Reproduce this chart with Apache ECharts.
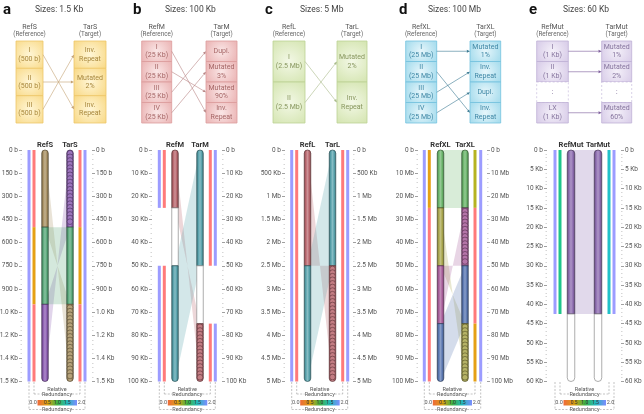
<!DOCTYPE html>
<html><head><meta charset="utf-8">
<script src="https://cdn.jsdelivr.net/npm/echarts@6/dist/echarts.min.js"></script>
<style>html,body{margin:0;padding:0;background:#fff}#c{width:644px;height:414px}</style>
</head><body><div id="c"></div>
<script>
// ================= DATA =================
const panelLetters = ['a', 'b', 'c', 'd', 'e'];
const panelTitles = ['Sizes: 1.5 Kb', 'Sizes: 100 Kb', 'Sizes: 5 Mb', 'Sizes: 100 Mb', 'Sizes: 60 Kb'];
const refNames = ['RefS', 'RefM', 'RefL', 'RefXL', 'RefMut'];
const tarNames = ['TarS', 'TarM', 'TarL', 'TarXL', 'TarMut'];
const genomeSizes = [1500, 100000, 5000000, 100000000, 60000];
const tickIntervals = [150, 10000, 500000, 10000000, 5000];

const tickLabelsA = ['0 b', '150 b', '300 b', '450 b', '600 b', '750 b', '900 b', '1.0 Kb', '1.2 Kb', '1.4 Kb', '1.5 Kb'];
const tickLabelsB = ['0 b', '10 Kb', '20 Kb', '30 Kb', '40 Kb', '50 Kb', '60 Kb', '70 Kb', '80 Kb', '90 Kb', '100 Kb'];
const tickLabelsC = ['0 b', '500 Kb', '1 Mb', '1.5 Mb', '2 Mb', '2.5 Mb', '3 Mb', '3.5 Mb', '4 Mb', '4.5 Mb', '5 Mb'];
const tickLabelsD = ['0 b', '10 Mb', '20 Mb', '30 Mb', '40 Mb', '50 Mb', '60 Mb', '70 Mb', '80 Mb', '90 Mb', '100 Mb'];
const tickLabelsE = ['0 b', '5 Kb', '10 Kb', '15 Kb', '20 Kb', '25 Kb', '30 Kb', '35 Kb', '40 Kb', '45 Kb', '50 Kb', '55 Kb', '60 Kb'];

// Top schematic: reference boxes, target boxes, arrows [refIndex, tarIndex]
const refBoxesA = ['I\n(500 b)', 'II\n(500 b)', 'III\n(500 b)'];
const tarBoxesA = ['Inv.\nRepeat', 'Mutated\n2%', 'Inv.\nRepeat'];
const arrowsA = [[0, 2], [1, 1], [2, 0]];
const refBoxesB = ['I\n(25 Kb)', 'II\n(25 Kb)', 'III\n(25 Kb)', 'IV\n(25 Kb)'];
const tarBoxesB = ['Dupl.', 'Mutated\n3%', 'Mutated\n90%', 'Inv.\nRepeat'];
const arrowsB = [[0, 3], [1, 2], [2, 0], [3, 1]];
const refBoxesC = ['I\n(2.5 Mb)', 'II\n(2.5 Mb)'];
const tarBoxesC = ['Mutated\n2%', 'Inv.\nRepeat'];
const arrowsC = [[0, 1], [1, 0]];
const refBoxesD = ['I\n(25 Mb)', 'II\n(25 Mb)', 'III\n(25 Mb)', 'IV\n(25 Mb)'];
const tarBoxesD = ['Mutated\n1%', 'Inv.\nRepeat', 'Dupl.', 'Inv.\nRepeat'];
const arrowsD = [[0, 0], [1, 3], [2, 1], [3, 2]];
const refBoxesE = ['I\n(1 Kb)', 'II\n(1 Kb)', ':', 'LX\n(1 Kb)'];
const tarBoxesE = ['Mutated\n1%', 'Mutated\n2%', ':', 'Mutated\n60%'];
const arrowsE = [[0, 0], [1, 1], [3, 3]];

// Chromosome segments [start, end, colourKey, inverted]
const refSegA = [[0, 500, 'tan', 0], [500, 1000, 'green', 0], [1000, 1500, 'purple', 0]];
const tarSegA = [[0, 500, 'purple', 1], [500, 1000, 'green', 0], [1000, 1500, 'tan', 1]];
const refSegB = [[0, 25000, 'rose', 0], [25000, 50000, 'empty', 0], [50000, 100000, 'teal', 0]];
const tarSegB = [[0, 50000, 'teal', 0], [50000, 75000, 'empty', 0], [75000, 100000, 'rose', 1]];
const refSegC = [[0, 2500000, 'rose', 0], [2500000, 5000000, 'teal', 0]];
const tarSegC = [[0, 2500000, 'teal', 0], [2500000, 5000000, 'rose', 1]];
const refSegD = [[0, 25e6, 'leaf', 0], [25e6, 50e6, 'olive', 0], [50e6, 75e6, 'magenta', 0], [75e6, 100e6, 'navy', 0]];
const tarSegD = [[0, 25e6, 'leaf', 0], [25e6, 50e6, 'magenta', 1], [50e6, 75e6, 'navy', 0], [75e6, 100e6, 'olive', 1]];
const refSegE = [[0, 42500, 'lavender', 0], [42500, 60000, 'empty', 0]];
const tarSegE = [[0, 42500, 'lavender', 0], [42500, 60000, 'empty', 0]];

// Links [refStart, refEnd, tarStart, tarEnd, colourKey] (tarStart > tarEnd = inversion)
const linksA = [[0, 500, 1500, 1000, 'tan'], [1000, 1500, 500, 0, 'purple'], [500, 1000, 500, 1000, 'green']];
const linksB = [[0, 25000, 100000, 75000, 'rose'], [50000, 100000, 0, 50000, 'teal']];
const linksC = [[0, 2500000, 5000000, 2500000, 'rose'], [2500000, 5000000, 0, 2500000, 'teal']];
const linksD = [[0, 25e6, 0, 25e6, 'leaf'], [25e6, 50e6, 100e6, 75e6, 'olive'], [50e6, 75e6, 50e6, 25e6, 'magenta'], [75e6, 100e6, 50e6, 75e6, 'navy']];
const linksE = [[0, 42500, 0, 42500, 'lavender']];

// Side bars: redundancy (outer) and relative redundancy (inner), [start, end, colourKey]
const redunRefA = [[0, 1500, 'blue']];
const relRefA = [[0, 500, 'red'], [500, 1000, 'orange'], [1000, 1500, 'red']];
const relTarA = [[0, 500, 'red'], [500, 1000, 'orange'], [1000, 1500, 'red']];
const redunTarA = [[0, 1500, 'blue']];
const redunRefB = [[0, 25000, 'blue'], [50000, 100000, 'blue']];
const relRefB = [[0, 25000, 'red'], [50000, 100000, 'red']];
const relTarB = [[0, 50000, 'red'], [75000, 100000, 'red']];
const redunTarB = [[0, 50000, 'blue'], [75000, 100000, 'blue']];
const redunRefC = [[0, 5000000, 'blue']];
const relRefC = [[0, 5000000, 'red']];
const relTarC = [[0, 5000000, 'red']];
const redunTarC = [[0, 5000000, 'blue']];
const redunRefD = [[0, 100e6, 'blue']];
const relRefD = [[0, 25e6, 'orange'], [25e6, 100e6, 'red']];
const relTarD = [[0, 25e6, 'lime'], [25e6, 75e6, 'red'], [75e6, 100e6, 'orange']];
const redunTarD = [[0, 100e6, 'blue']];
const redunRefE = [[0, 42500, 'blue']];
const relRefE = [[0, 42500, 'mint']];
const relTarE = [[0, 42500, 'cyan']];
const redunTarE = [[0, 42500, 'blue']];

const legendStops = ['0.0', '0.5', '1.0', '1.5', '2.0'];

// ================= STYLE / LAYOUT =================
const COL = {
  tan: '#a99163', green: '#58a879', purple: '#8c5db2', rose: '#b8666d', teal: '#56a1ab',
  leaf: '#69b469', olive: '#a9a64c', magenta: '#a85d9a', navy: '#5a77b1', lavender: '#8d6cb0',
  empty: '#ffffff',
  blue: '#9c9cff', red: '#ff7a7a', orange: '#e5a015', lime: '#b6b320', mint: '#1fc48b', cyan: '#21c1c9'
};
const FONT = 'Roboto, "Liberation Sans", sans-serif';
const BOT = [
  { axL: 22, bL: 29, rL: 34, ref: 45, tar: 70, rR: 80, bR: 85, axR: 92, cw: 6.5 },
  { axL: 152, bL: 159.3, rL: 164.3, ref: 175, tar: 200, rR: 210.3, bR: 215.3, axR: 222, cw: 6.5 },
  { axL: 285, bL: 291.7, rL: 296.7, ref: 307.5, tar: 332.5, rR: 342.7, bR: 347.7, axR: 353, cw: 6.5 },
  { axL: 418, bL: 424.3, rL: 429.3, ref: 440.5, tar: 465, rR: 475, bR: 480.7, axR: 487, cw: 6.5 },
  { axL: 547, bL: 555, rL: 560, ref: 571, tar: 598, rR: 609, bR: 614, axR: 621, cw: 7.5 }
];
const TOP = [
  { rl: 16, rr: 43, tl: 74, tr: 106, lx: 3, tx: 35 },
  { rl: 141.7, rr: 171.7, tl: 206, tr: 237, lx: 133, tx: 165 },
  { rl: 273, rr: 305, tl: 337, tr: 367, lx: 265, tx: 300 },
  { rl: 405.7, rr: 436.7, tl: 470, tr: 500.7, lx: 399, tx: 428 },
  { rl: 536.7, rr: 568.3, tl: 601.7, tr: 631.7, lx: 529, tx: 563 }
];
const BOXSTYLE = [
  { c: '#fff6d6', e: '#f8d884', s: '#eec66a', t: '#a8883e', a: '#c4a273' },
  { c: '#fae6e6', e: '#ecb9b9', s: '#dc9c9c', t: '#a66767', a: '#b98585' },
  { c: '#f3f8e6', e: '#d6e6b4', s: '#bcd294', t: '#88975f', a: '#a9bb8a' },
  { c: '#e6f6fb', e: '#abdeee', s: '#74c2de', t: '#3f87a5', a: '#3c7b93' },
  { c: '#f4f0f9', e: '#dbd0ea', s: '#bfb1d6', t: '#86759e', a: '#7c5c9b' }
];

const tickLabels = [tickLabelsA, tickLabelsB, tickLabelsC, tickLabelsD, tickLabelsE];
const refBoxes = [refBoxesA, refBoxesB, refBoxesC, refBoxesD, refBoxesE];
const tarBoxes = [tarBoxesA, tarBoxesB, tarBoxesC, tarBoxesD, tarBoxesE];
const arrows = [arrowsA, arrowsB, arrowsC, arrowsD, arrowsE];
const refSegs = [refSegA, refSegB, refSegC, refSegD, refSegE];
const tarSegs = [tarSegA, tarSegB, tarSegC, tarSegD, tarSegE];
const links = [linksA, linksB, linksC, linksD, linksE];
const sideBars = [
  [redunRefA, relRefA, relTarA, redunTarA], [redunRefB, relRefB, relTarB, redunTarB],
  [redunRefC, relRefC, relTarC, redunTarC], [redunRefD, relRefD, relTarD, redunTarD],
  [redunRefE, relRefE, relTarE, redunTarE]
];

function rgb(hex) { const n = parseInt(hex.slice(1), 16); return [(n >> 16) & 255, (n >> 8) & 255, n & 255]; }
function mix(hex, target, f) {
  const c = rgb(hex);
  return 'rgb(' + c.map(v => Math.round(v + (target - v) * f)).join(',') + ')';
}
function alpha(hex, a) { const c = rgb(hex); return 'rgba(' + c.join(',') + ',' + a + ')'; }

const option = { animation: false, grid: [], xAxis: [], yAxis: [], series: [], graphic: [] };

for (let p = 0; p < 5; p++) {
  const B = BOT[p], T = TOP[p], S = BOXSTYLE[p];
  // ---------- top schematic grid ----------
  const tg = option.grid.length;
  option.grid.push({ left: T.rl, width: T.tr - T.rl, top: 41, height: 82, containLabel: false, outerBoundsMode: 'none' });
  option.xAxis.push({ gridIndex: tg, type: 'value', min: T.rl, max: T.tr, show: false });
  option.yAxis.push({ gridIndex: tg, type: 'value', min: 0, max: refBoxes[p].length, inverse: true, show: false });
  const txa = option.xAxis.length - 1, tya = option.yAxis.length - 1;
  const boxSeries = (labels, x0, x1) => ({
    type: 'custom', xAxisIndex: txa, yAxisIndex: tya, z: 2,
    data: labels.map((l, i) => [x0, i]),
    renderItem: (params, api) => {
      const i = api.value(1);
      const a = api.coord([x0, i]), b = api.coord([x1, i + 1]);
      const lab = labels[params.dataIndex];
      const gap = lab === ':';
      return {
        type: 'group', children: [
          { type: 'rect', shape: { x: a[0], y: a[1], width: b[0] - a[0], height: b[1] - a[1] },
            style: gap ? { fill: '#fff', stroke: S.s, lineWidth: 0.6, lineDash: [2, 2] } :
              { fill: { type: 'radial', x: 0.5, y: 0.5, r: 0.75, colorStops: [{ offset: 0, color: S.c }, { offset: 1, color: S.e }] },
                stroke: S.s, lineWidth: 0.8 } },
          { type: 'text', style: { text: lab, x: (a[0] + b[0]) / 2, y: (a[1] + b[1]) / 2, align: 'center', verticalAlign: 'middle',
            fill: S.t, fontSize: gap ? 8 : 7, fontFamily: FONT, lineHeight: 8.5 } }
        ]
      };
    }
  });
  option.series.push(boxSeries(refBoxes[p], T.rl, T.rr));
  option.series.push(boxSeries(tarBoxes[p], T.tl, T.tr));
  option.series.push({
    type: 'custom', xAxisIndex: txa, yAxisIndex: tya, z: 3,
    data: arrows[p].map(a => [a[0], a[1]]),
    renderItem: (params, api) => {
      const s = api.coord([T.rr, api.value(0) + 0.5]);
      const e = api.coord([T.tl, api.value(1) + 0.5]);
      const ang = Math.atan2(e[1] - s[1], e[0] - s[0]);
      const hl = 3.2, hw = 1.4;
      const bx = e[0] - hl * Math.cos(ang), by = e[1] - hl * Math.sin(ang);
      const px = -Math.sin(ang) * hw, py = Math.cos(ang) * hw;
      return { type: 'group', children: [
        { type: 'line', shape: { x1: s[0], y1: s[1], x2: bx, y2: by }, style: { stroke: S.a, lineWidth: 0.6 } },
        { type: 'polygon', shape: { points: [[e[0], e[1]], [bx + px, by + py], [bx - px, by - py]] }, style: { fill: S.a } }
      ] };
    }
  });

  // ---------- bottom track grid ----------
  const bg = option.grid.length;
  option.grid.push({ left: B.axL, width: B.axR - B.axL, top: 150, height: 231.5, containLabel: false, outerBoundsMode: 'none' });
  option.xAxis.push({ gridIndex: bg, type: 'value', min: B.axL, max: B.axR, show: false });
  const bxa = option.xAxis.length - 1;
  const labs = tickLabels[p], iv = tickIntervals[p];
  const yax = (pos) => ({
    gridIndex: bg, type: 'value', position: pos, min: 0, max: genomeSizes[p], interval: iv, inverse: true,
    axisLine: { show: false },
    axisTick: { show: true, length: 3, lineStyle: { color: '#777', width: 0.7 } },
    minorTick: { show: true, splitNumber: 5, length: 1.5, lineStyle: { color: '#c4c4c4', width: 0.7 } },
    splitLine: { show: false },
    axisLabel: { fontSize: 6.5, color: '#555', margin: 4, fontFamily: FONT, hideOverlap: false, formatter: v => labs[Math.round(v / iv)] }
  });
  option.yAxis.push(yax('left'));
  const bya = option.yAxis.length - 1;
  option.yAxis.push(yax('right'));

  // links
  const lk = links[p];
  option.series.push({
    type: 'custom', xAxisIndex: bxa, yAxisIndex: bya, z: 1,
    data: lk.map(k => [k[0], k[1], k[2], k[3]]),
    renderItem: (params, api) => {
      const key = lk[params.dataIndex][4];
      const p1 = api.coord([B.ref, api.value(0)]), p2 = api.coord([B.tar, api.value(2)]);
      const p3 = api.coord([B.tar, api.value(3)]), p4 = api.coord([B.ref, api.value(1)]);
      return { type: 'polygon', shape: { points: [p1, p2, p3, p4] }, style: { fill: alpha(COL[key], 0.26) } };
    }
  });

  // side bars
  const trackXs = [B.bL, B.rL, B.rR, B.bR];
  const sbItems = [];
  sideBars[p].forEach((arr, ti) => arr.forEach(s => sbItems.push({ t: ti, s })));
  option.series.push({
    type: 'custom', xAxisIndex: bxa, yAxisIndex: bya, z: 2,
    data: sbItems.map(it => [it.s[0], it.s[1]]),
    renderItem: (params, api) => {
      const it = sbItems[params.dataIndex];
      const x = trackXs[it.t];
      const a = api.coord([x, api.value(0)]), b = api.coord([x, api.value(1)]);
      return { type: 'rect', shape: { x: a[0] - 1.5, y: a[1], width: 3, height: b[1] - a[1] }, style: { fill: COL[it.s[2]] } };
    }
  });

  // chromosomes
  const chromSeries = (segs, x) => ({
    type: 'custom', xAxisIndex: bxa, yAxisIndex: bya, z: 3,
    data: segs.map(s => [s[0], s[1]]),
    renderItem: (params, api) => {
      const s = segs[params.dataIndex];
      const a = api.coord([x, api.value(0)]), b = api.coord([x, api.value(1)]);
      const w = B.cw, r = w / 2;
      const first = params.dataIndex === 0, last = params.dataIndex === segs.length - 1;
      const base = COL[s[2]];
      const empty = s[2] === 'empty';
      const fill = empty ? '#fff' : {
        type: 'linear', x: 0, y: 0, x2: 1, y2: 0, colorStops: [
          { offset: 0, color: mix(base, 0, 0.35) }, { offset: 0.25, color: base },
          { offset: 0.5, color: mix(base, 255, 0.28) }, { offset: 0.75, color: base }, { offset: 1, color: mix(base, 0, 0.35) }]
      };
      const children = [{
        type: 'rect',
        shape: { x: a[0] - w / 2, y: a[1], width: w, height: b[1] - a[1], r: [first ? r : 0, first ? r : 0, last ? r : 0, last ? r : 0] },
        style: { fill, stroke: empty ? '#8a8a8a' : mix(base, 0, 0.5), lineWidth: 0.7 }
      }];
      if (s[3]) {
        const step = 3.6, cr = w / 2 - 0.4;
        for (let y = a[1] + cr + 0.4; y <= b[1] - cr - 0.2; y += step) {
          children.push({ type: 'circle', shape: { cx: a[0], cy: y, r: cr },
            style: { fill: mix(base, 255, 0.15), stroke: mix(base, 0, 0.5), lineWidth: 0.6 } });
        }
      }
      return { type: 'group', children };
    }
  });
  option.series.push(chromSeries(refSegs[p], B.ref));
  option.series.push(chromSeries(tarSegs[p], B.tar));

  // ---------- texts ----------
  const G = option.graphic;
  G.push({ type: 'text', left: T.lx, top: 3, style: { text: panelLetters[p], fontSize: 15, fontWeight: 'bold', fill: '#111', fontFamily: FONT } });
  G.push({ type: 'text', left: T.tx, top: 5.5, style: { text: panelTitles[p], fontSize: 8.5, fill: '#444', fontFamily: FONT } });
  const nameTxt = (x, y, t, fs, col, fw) => ({ type: 'text', x, y, style: { text: t, align: 'center', verticalAlign: 'middle', fontSize: fs, fill: col, fontFamily: FONT, fontWeight: fw || 'normal' } });
  G.push(nameTxt((T.rl + T.rr) / 2, 27, refNames[p], 7, '#555'));
  G.push(nameTxt((T.rl + T.rr) / 2, 34.5, '(Reference)', 6.3, '#666'));
  G.push(nameTxt((T.tl + T.tr) / 2, 27, tarNames[p], 7, '#555'));
  G.push(nameTxt((T.tl + T.tr) / 2, 34.5, '(Target)', 6.3, '#666'));
  G.push(nameTxt(B.ref, 145, refNames[p], 7.5, '#333', 'bold'));
  G.push(nameTxt(B.tar, 145, tarNames[p], 7.5, '#333', 'bold'));

  // ---------- legend ----------
  const cx = (B.rL + B.rR) / 2;
  const dash = { stroke: '#9a9a9a', lineWidth: 0.6, lineDash: [2, 1.5] };
  const ln = (x1, y1, x2, y2) => ({ type: 'line', shape: { x1, y1, x2, y2 }, style: dash });
  G.push(ln(B.rL, 382, B.rL, 394), ln(B.rR, 382, B.rR, 394), ln(B.rL, 394, cx - 15, 394), ln(cx + 15, 394, B.rR, 394));
  G.push(ln(B.bL, 382, B.bL, 409.5), ln(B.bR, 382, B.bR, 409.5), ln(B.bL, 409.5, cx - 15, 409.5), ln(cx + 15, 409.5, B.bR, 409.5));
  G.push(nameTxt(cx, 389.5, 'Relative', 5.5, '#555'));
  G.push(nameTxt(cx, 395, 'Redundancy', 5.5, '#555'));
  G.push(nameTxt(cx, 409.5, 'Redundancy', 5.5, '#555'));
  const bx0 = B.rL + 3.5, bx1 = B.rR - 3;
  G.push({ type: 'rect', shape: { x: bx0, y: 400, width: bx1 - bx0, height: 5.5 },
    style: { fill: { type: 'linear', x: 0, y: 0, x2: 1, y2: 0, colorStops: [
      { offset: 0, color: '#ee6a3a' }, { offset: 0.25, color: '#dda012' }, { offset: 0.5, color: '#3fb244' },
      { offset: 0.75, color: '#22b9bb' }, { offset: 1, color: '#7d8cff' }] } } });
  G.push(nameTxt(bx0 - 4.5, 403, legendStops[0], 5.5, '#555'));
  G.push(nameTxt(bx1 + 4.5, 403, legendStops[4], 5.5, '#555'));
  for (let k = 1; k < 4; k++) G.push(nameTxt(bx0 + (bx1 - bx0) * k / 4, 403, legendStops[k], 5, '#333'));
}

const chart = echarts.init(document.getElementById('c'), null, { renderer: 'canvas', width: 644, height: 414 });
chart.setOption(option);
</script></body></html>
